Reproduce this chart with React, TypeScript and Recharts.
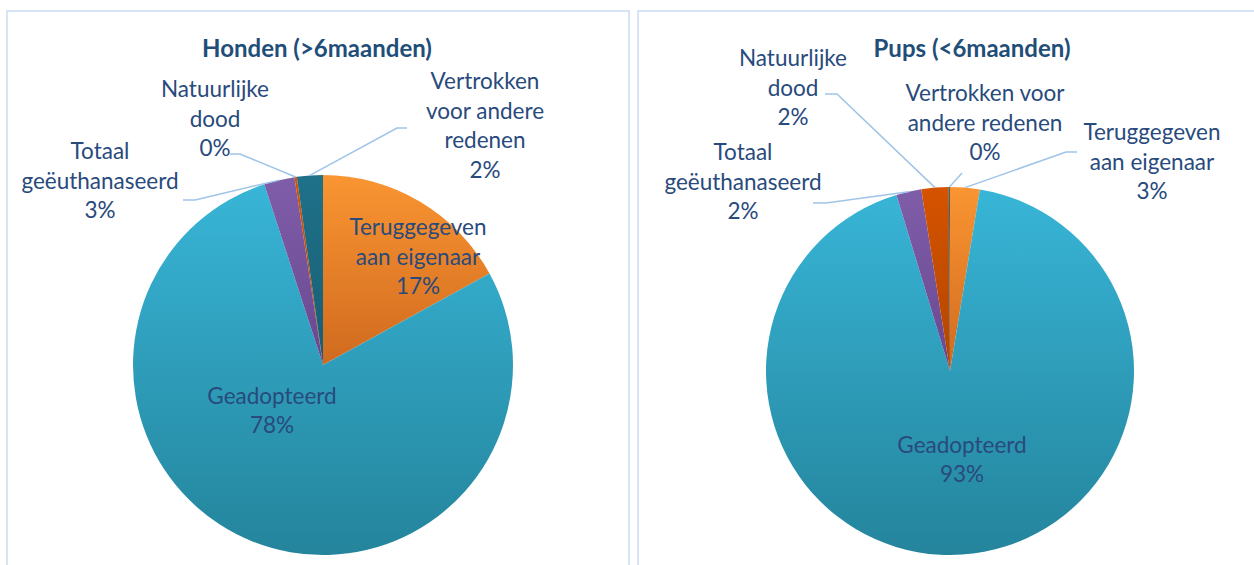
import React from "react"
import { PieChart, Pie, Cell } from "recharts"

const categories = [
  "Teruggegeven aan eigenaar",
  "Geadopteerd",
  "Totaal geëuthanaseerd",
  "Natuurlijke dood",
  "Vertrokken voor andere redenen",
]

// percentages
const hondenValues = [17.0, 78.0, 2.6, 0.2, 2.2]
const pupsValues = [2.6, 92.7, 2.2, 2.4, 0.1]

const hondenLabelLines = [
  ["Teruggegeven", "aan eigenaar"],
  ["Geadopteerd"],
  ["Totaal", "geëuthanaseerd"],
  ["Natuurlijke", "dood"],
  ["Vertrokken", "voor andere", "redenen"],
]
const pupsLabelLines = [
  ["Teruggegeven", "aan eigenaar"],
  ["Geadopteerd"],
  ["Totaal", "geëuthanaseerd"],
  ["Natuurlijke", "dood"],
  ["Vertrokken voor", "andere redenen"],
]

// top / bottom gradient stops per slice
const sliceColors = [
  ["#fa9532", "#d06a1f"],
  ["#38b5d7", "#24849c"],
  ["#7f5da9", "#694890"],
  ["#d55300", "#b24600"],
  ["#1f718a", "#175e73"],
]

const LABEL_COLOR = "#284a7c"
const LEADER_COLOR = "#9fc4e8"
const FONT = "Lato, 'Open Sans', sans-serif"
const LINE_H = 29.5

type Leader = { sx: number; sy: number; ex: number; ey: number }
type Place = { dx: number; dy: number; leader?: Leader }

// label placement relative to the pie centre
const hondenPlaces: Place[] = [
  { dx: 95, dy: -109 },
  { dx: -51, dy: 45 },
  { dx: -223, dy: -185, leader: { sx: -140, sy: -165, ex: -128, ey: -165 } },
  { dx: -108, dy: -247, leader: { sx: -93, sy: -211, ex: -83, ey: -211 } },
  { dx: 162, dy: -240, leader: { sx: 84, sy: -237, ex: 74, ey: -237 } },
]
const pupsPlaces: Place[] = [
  { dx: 202, dy: -210, leader: { sx: 127, sy: -219, ex: 116, ey: -219 } },
  { dx: 12, dy: 88 },
  { dx: -207, dy: -190, leader: { sx: -137, sy: -168, ex: -124, ey: -168 } },
  { dx: -157, dy: -284, leader: { sx: -125, sy: -277, ex: -113, ey: -277 } },
  { dx: 35, dy: -249, leader: { sx: 12, sy: -198, ex: 12, ey: -198 } },
]

const RAD = Math.PI / 180

function makeLabel(lines: string[][], places: Place[]) {
  return (props: any) => {
    const { cx, cy, midAngle, outerRadius, percent, index } = props
    const place = places[index]
    const text = [...lines[index], `${Math.round(percent * 100)}%`]
    const bx = cx + place.dx
    const by = cy + place.dy
    const n = text.length
    let leader = null
    if (place.leader) {
      const rx = cx + outerRadius * Math.cos(-midAngle * RAD)
      const ry = cy + outerRadius * Math.sin(-midAngle * RAD)
      const l = place.leader
      leader = (
        <polyline
          points={`${cx + l.sx},${cy + l.sy} ${cx + l.ex},${cy + l.ey} ${rx},${ry}`}
          fill="none"
          stroke={LEADER_COLOR}
          strokeWidth={1.5}
        />
      )
    }
    return (
      <g key={`lbl-${index}`}>
        {leader}
        <text
          x={bx}
          y={by}
          textAnchor="middle"
          fill={LABEL_COLOR}
          fontSize={22.5}
          fontFamily={FONT}
        >
          {text.map((t, i) => (
            <tspan key={i} x={bx} y={by + (i - (n - 1) / 2) * LINE_H} dominantBaseline="central">
              {t}
            </tspan>
          ))}
        </text>
      </g>
    )
  }
}

function Donut(props: {
  id: string
  values: number[]
  lines: string[][]
  places: Place[]
  width: number
  cx: number
  cy: number
  r: number
}) {
  const data = categories.map((name, i) => ({ name, value: props.values[i] }))
  return (
    <PieChart width={props.width} height={565} margin={{ top: 0, right: 0, bottom: 0, left: 0 }}>
      <defs>
        {sliceColors.map((c, i) => (
          <linearGradient key={i} id={`${props.id}-g${i}`} x1="0" y1="0" x2="0" y2="1">
            <stop offset="0%" stopColor={c[0]} />
            <stop offset="100%" stopColor={c[1]} />
          </linearGradient>
        ))}
      </defs>
      <Pie
        data={data}
        dataKey="value"
        nameKey="name"
        cx={props.cx}
        cy={props.cy}
        outerRadius={props.r}
        startAngle={90}
        endAngle={-270}
        isAnimationActive={false}
        labelLine={false}
        label={makeLabel(props.lines, props.places)}
        stroke="none"
      >
        {data.map((_, i) => (
          <Cell key={i} fill={`url(#${props.id}-g${i})`} stroke="none" />
        ))}
      </Pie>
    </PieChart>
  )
}

const titleStyle: React.CSSProperties = {
  position: "absolute",
  top: 32,
  fontFamily: FONT,
  fontWeight: 700,
  fontSize: 24,
  lineHeight: "32px",
  color: "#1f4e79",
  transform: "translateX(-50%)",
  whiteSpace: "nowrap",
}

export default function App() {
  return (
    <div
      style={{
        position: "fixed",
        left: 0,
        top: 0,
        width: 1254,
        height: 565,
        overflow: "hidden",
        background: "#fff",
      }}
    >
      <div style={{ position: "absolute", left: 6, top: 10, width: 620, height: 600, border: "2px solid #d6e4f4" }} />
      <div style={{ position: "absolute", left: 637, top: 10, width: 700, height: 600, border: "2px solid #d6e4f4" }} />
      <div style={{ position: "absolute", left: 0, top: 0 }}>
        <Donut id="honden" values={hondenValues} lines={hondenLabelLines} places={hondenPlaces} width={630} cx={323} cy={365} r={190} />
      </div>
      <div style={{ position: "absolute", left: 630, top: 0 }}>
        <Donut id="pups" values={pupsValues} lines={pupsLabelLines} places={pupsPlaces} width={624} cx={320} cy={371} r={184} />
      </div>
      <div style={{ ...titleStyle, left: 317 }}>Honden (&gt;6maanden)</div>
      <div style={{ ...titleStyle, left: 972 }}>Pups (&lt;6maanden)</div>
    </div>
  )
}
